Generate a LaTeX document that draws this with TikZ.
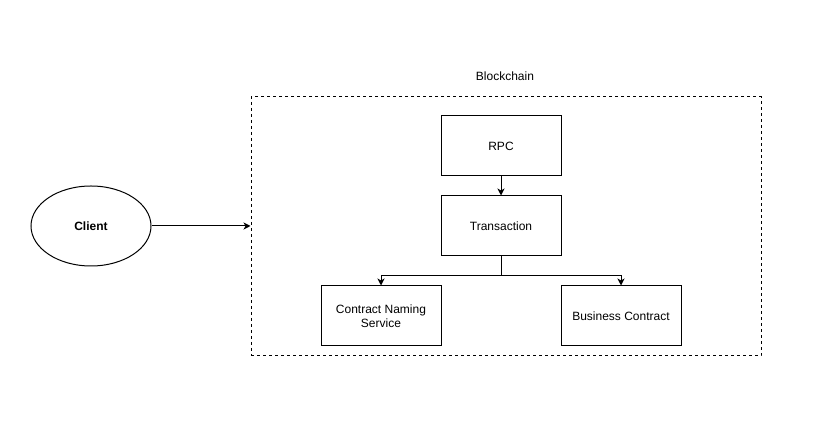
\documentclass[tikz,border=0pt]{standalone}
\usepackage{fontspec}
\setmainfont{Liberation Sans}
\usetikzlibrary{
    arrows.meta,
    shapes.geometric,
    positioning
}

\begin{document}
\begin{tikzpicture}[x=1pt, y=1pt, line width=1pt,
    font=\fontsize{12}{14}\selectfont,
    box/.style={draw, minimum width=120pt, minimum height=60pt, align=center, inner sep=0pt},
    arr/.style={-{Stealth[length=7pt,width=7pt,inset=2pt]}}]
    \useasboundingbox (0, 0) rectangle (815, 447);
    \node[draw, dashed, minimum width=510pt, minimum height=259pt, inner sep=0pt] (chain) at (506, 220.5) {};
    \node (chainlabel) at (505, 371) {Blockchain};
    \node[draw, ellipse, minimum width=120pt, minimum height=80pt, inner sep=0pt, font=\fontsize{12}{14}\selectfont\bfseries] (client) at (91, 221) {Client};
    \node[box] (rpc) at (501, 301) {RPC};
    \node[box] (trans) at (501, 221) {Transaction};
    \node[box] (cns) at (381, 131) {Contract Naming\\Service};
    \node[box] (bc) at (621, 131) {Business Contract};
    \coordinate (split) at (501, 171);
    \draw[arr] (client) -- (client -| chain.west);
    \draw[arr] (rpc) -- (trans);
    \draw[arr] (trans.south) -- (split) -| (cns.north);
    \draw[arr] (split) -| (bc.north);
\end{tikzpicture}
\end{document}
